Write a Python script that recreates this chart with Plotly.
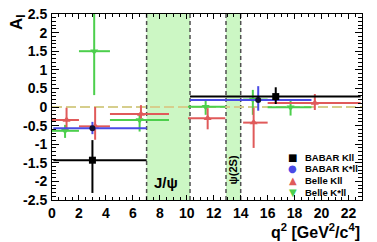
import plotly.graph_objects as go

# ---------------- data ----------------
# BABAR K l+l-
babar_k_q2 = [3.0, 16.6]
babar_k_lo = [0.1, 10.24]
babar_k_hi = [7.02, 22.9]
babar_k_A = [-1.43, 0.28]
babar_k_ep = [0.54, 0.25]
babar_k_em = [0.88, 0.20]

# BABAR K* l+l-
babar_ks_q2 = [3.0, 15.3]
babar_ks_lo = [0.1, 10.24]
babar_ks_hi = [7.02, 19.25]
babar_ks_A = [-0.57, 0.19]
babar_ks_ep = [0.17, 0.37]
babar_ks_em = [0.16, 0.29]

# Belle K l+l-
belle_k_q2 = [1.08, 3.2, 6.6, 11.55, 14.96, 19.5]
belle_k_lo = [0.0, 2.0, 4.3, 10.09, 14.18, 16.0]
belle_k_hi = [2.0, 4.3, 8.68, 12.86, 16.0, 22.9]
belle_k_A = [-0.35, -0.52, -0.19, -0.30, -0.42, 0.11]
belle_k_ep = [0.33, 0.52, 0.24, 0.27, 0.40, 0.24]
belle_k_em = [0.25, 0.36, 0.12, 0.30, 0.68, 0.19]

# Belle K* l+l-
belle_ks_q2 = [0.97, 3.13, 6.5, 11.4, 14.9, 17.7]
belle_ks_lo = [0.0, 2.0, 4.3, 10.09, 14.18, 16.0]
belle_ks_hi = [2.0, 4.3, 8.68, 12.86, 16.0, 19.25]
belle_ks_A = [-0.64, 1.50, -0.35, 0.01, 0.20, -0.01]
belle_ks_ep = [0.16, 1.30, 0.19, 0.19, 0.26, 0.21]
belle_ks_em = [0.19, 1.18, 0.31, 0.22, 0.41, 0.22]

# vetoed charmonium regions
jpsi_veto = [7.02, 10.24]
psi2s_veto = [12.91, 14.0]

x_tickvals = [0, 2, 4, 6, 8, 10, 12, 14, 16, 18, 20, 22]
y_tickvals = [-2.5, -2, -1.5, -1, -0.5, 0, 0.5, 1, 1.5, 2, 2.5]
y_ticktext = ["-2.5", "-2", "-1.5", "-1", "-0.5", "0", "0.5", "1", "1.5", "2", "2.5"]

legend_labels = ["BABAR Kll", "BABAR K*ll", "Belle Kll", "Belle K*ll"]
legend_glyphs = ["\u25A0", "\u25CF", "\u25B2", "\u25BC"]

# ---------------- style ----------------
BLACK = "#000000"
BLUE = "#4a4ae6"
RED = "#e05a5a"
GREEN = "#4ccf4c"
FONT = "Liberation Sans"


def series(q2, lo, hi, A, ep, em, color, symbol, size, mcolor=None):
    return go.Scatter(
        x=q2, y=A, mode="markers",
        marker=dict(symbol=symbol, size=size, color=mcolor or color, line=dict(width=0)),
        error_x=dict(type="data", symmetric=False,
                     array=[h - q for h, q in zip(hi, q2)],
                     arrayminus=[q - l for q, l in zip(q2, lo)],
                     color=color, thickness=2, width=0),
        error_y=dict(type="data", symmetric=False, array=ep, arrayminus=em,
                     color=color, thickness=2, width=0),
        showlegend=False, cliponaxis=True,
    )


fig = go.Figure()
fig.add_trace(series(belle_ks_q2, belle_ks_lo, belle_ks_hi, belle_ks_A, belle_ks_ep, belle_ks_em,
                     GREEN, "triangle-down", 7))
fig.add_trace(series(belle_k_q2, belle_k_lo, belle_k_hi, belle_k_A, belle_k_ep, belle_k_em,
                     RED, "triangle-up", 7))
fig.add_trace(series(babar_ks_q2, babar_ks_lo, babar_ks_hi, babar_ks_A, babar_ks_ep, babar_ks_em,
                     BLUE, "circle", 6, mcolor="#101030"))
fig.add_trace(series(babar_k_q2, babar_k_lo, babar_k_hi, babar_k_A, babar_k_ep, babar_k_em,
                     BLACK, "square", 7))

shapes = []
for (a, b) in (jpsi_veto, psi2s_veto):
    shapes.append(dict(type="rect", xref="x", yref="paper", x0=a, x1=b, y0=0, y1=1,
                       fillcolor="rgb(204,247,196)", line=dict(width=0), layer="below"))
    for xv in (a, b):
        shapes.append(dict(type="line", xref="x", yref="paper", x0=xv, x1=xv, y0=0, y1=1,
                           line=dict(color="#505050", width=1.5, dash="4px,3px"), layer="below"))
shapes.append(dict(type="line", xref="x", yref="y", x0=0, x1=23, y0=0, y1=0,
                   line=dict(color="rgb(214,206,140)", width=2, dash="10px,4px"), layer="below"))

annotations = [
    dict(text="<b>J/\u03c8</b>", x=8.45, y=-2.02, xref="x", yref="y", showarrow=False,
         font=dict(family=FONT, size=15, color="black")),
    dict(text="<b>\u03c8(2S)</b>", x=13.45, y=-1.7, xref="x", yref="y", showarrow=False,
         textangle=-90, font=dict(family=FONT, size=11, color="black")),
    dict(text="<b>A<sub>I</sub></b>", x=-0.11, y=1.01, xref="paper", yref="paper",
         xanchor="center", yanchor="top", showarrow=False, textangle=-90,
         font=dict(family=FONT, size=17, color="black")),
    dict(text="<b>q<sup>2</sup> [GeV<sup>2</sup>/c<sup>4</sup>]</b>", x=1.0, y=-0.165,
         xref="paper", yref="paper", xanchor="right", yanchor="middle", showarrow=False,
         font=dict(family=FONT, size=16, color="black")),
]
leg_colors = [BLACK, BLUE, RED, GREEN]
leg_y = [0.231, 0.168, 0.106, 0.043]
for lab, gl, col, yy in zip(legend_labels, legend_glyphs, leg_colors, leg_y):
    annotations.append(dict(text=gl, x=0.777, y=yy, xref="paper", yref="paper",
                            xanchor="center", yanchor="middle", showarrow=False,
                            font=dict(family="DejaVu Sans", size=10, color=col)))
    annotations.append(dict(text="<b>" + lab + "</b>", x=0.81, y=yy, xref="paper", yref="paper",
                            xanchor="left", yanchor="middle", showarrow=False,
                            font=dict(family=FONT, size=9.5, color="black")))

fig.update_layout(
    width=377, height=242,
    margin=dict(l=52, r=15, t=14, b=42, autoexpand=False),
    paper_bgcolor="white", plot_bgcolor="white",
    shapes=shapes, annotations=annotations,
    showlegend=False,
    font=dict(family=FONT, color="black"),
)
fig.update_xaxes(
    range=[0, 23], showgrid=False, zeroline=False,
    showline=True, linecolor="black", linewidth=1, mirror="ticks",
    ticks="inside", ticklen=5, tickwidth=1, tickcolor="black",
    tickvals=x_tickvals, ticktext=[str(v) for v in x_tickvals],
    tickfont=dict(family=FONT, size=14, color="black", weight="bold"),
    minor=dict(dtick=0.5, ticks="inside", ticklen=3, tickcolor="black", tickwidth=1, showgrid=False),
)
fig.update_yaxes(
    range=[-2.5, 2.5], showgrid=False, zeroline=False,
    showline=True, linecolor="black", linewidth=1, mirror="ticks",
    ticks="inside", ticklen=7, tickwidth=1, tickcolor="black",
    tickvals=y_tickvals, ticktext=y_ticktext,
    tickfont=dict(family=FONT, size=14, color="black", weight="bold"),
    ticklabelstandoff=1,
    minor=dict(dtick=0.1, ticks="inside", ticklen=4, tickcolor="black", tickwidth=1, showgrid=False),
)

fig.write_html("out.html",
               config={"displayModeBar": False, "staticPlot": True},
               post_script="document.body.style.margin='0px';document.body.style.padding='0px';")
